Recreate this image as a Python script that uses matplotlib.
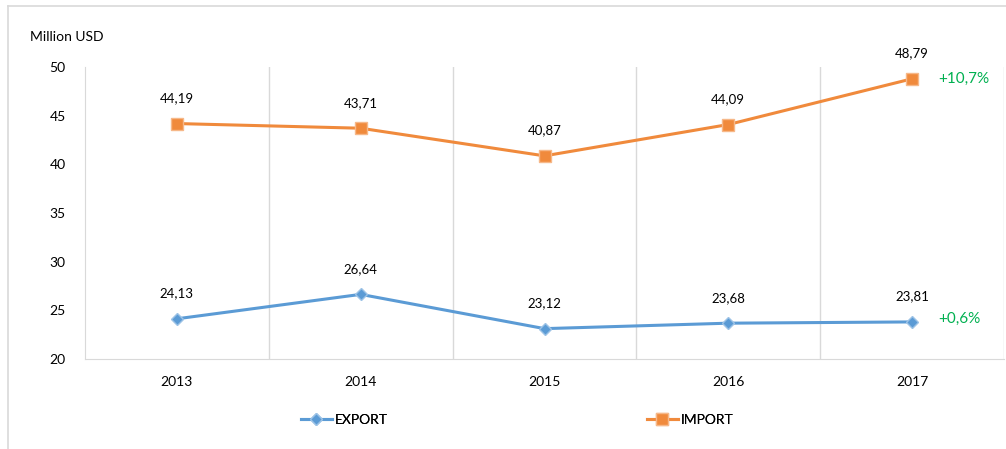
import matplotlib
matplotlib.use("Agg")
import matplotlib.pyplot as plt
from matplotlib.lines import Line2D

plt.rcParams['font.family'] = ['Lato', 'DejaVu Sans']

years = ["2013", "2014", "2015", "2016", "2017"]
export_vals = [24.13, 26.64, 23.12, 23.68, 23.81]
import_vals = [44.19, 43.71, 40.87, 44.09, 48.79]
export_growth = "+0,6%"
import_growth = "+10,7%"

C_EXP = "#5B9BD5"
C_IMP = "#F08A3C"
C_GREEN = "#00B050"
C_GRID = "#D9D9D9"

fig = plt.figure(figsize=(10.06, 4.49), dpi=100)
ax = fig.add_axes([85/1006, 1-359/449, (1004-85)/1006, (359-67)/449])

x = list(range(len(years)))
ax.plot(x, import_vals, color=C_IMP, lw=2.2, marker='s', ms=9,
        mfc=C_IMP, mec="#F6B889", mew=1, zorder=3, label="IMPORT")
ax.plot(x, export_vals, color=C_EXP, lw=2.2, marker='D', ms=6.5,
        mfc=C_EXP, mec="#9DC3E6", mew=1, zorder=3, label="EXPORT")

def fmt(v):
    return f"{v:.2f}".replace(".", ",")

for xi, v in zip(x, import_vals):
    ax.annotate(fmt(v), (xi, v), xytext=(0, 14), textcoords='offset points',
                ha='center', va='bottom', fontsize=9.5, color='#000000')
for xi, v in zip(x, export_vals):
    ax.annotate(fmt(v), (xi, v), xytext=(0, 14), textcoords='offset points',
                ha='center', va='bottom', fontsize=9.5, color='#000000')

ax.annotate(import_growth, (x[-1], import_vals[-1]), xytext=(19, 0),
            textcoords='offset points', ha='left', va='center', fontsize=11,
            color=C_GREEN, bbox=dict(boxstyle='square,pad=0.3', fc='white', ec='none'),
            zorder=5, annotation_clip=False)
ax.annotate(export_growth, (x[-1], export_vals[-1]), xytext=(19, 2),
            textcoords='offset points', ha='left', va='center', fontsize=11,
            color=C_GREEN, bbox=dict(boxstyle='square,pad=0.3', fc='white', ec='none'),
            zorder=5, annotation_clip=False)

ax.set_xlim(-0.5, len(years) - 0.5)
ax.set_ylim(20, 50)
ax.set_yticks([20, 25, 30, 35, 40, 45, 50])
ax.set_xticks(x)
ax.set_xticklabels(years)
for b in [i + 0.5 for i in range(len(years))]:
    ax.axvline(b, color=C_GRID, lw=1, zorder=1)

for s in ['top', 'right']:
    ax.spines[s].set_visible(False)
ax.spines['left'].set_color(C_GRID)
ax.spines['bottom'].set_color(C_GRID)
ax.tick_params(axis='both', length=0, labelsize=10, colors='#000000')
ax.tick_params(axis='y', pad=14)
ax.tick_params(axis='x', pad=12)

fig.text(30/1006, 1-37/449, "Million USD", fontsize=10, ha='left', va='center')

# outer frame
fig.add_artist(Line2D([8/1006, 1], [1-6/449, 1-6/449], color='#D9D9D9', lw=1.2,
                      transform=fig.transFigure))
fig.add_artist(Line2D([8/1006, 8/1006], [0, 1-6/449], color='#D9D9D9', lw=1.2,
                      transform=fig.transFigure))

h_exp = Line2D([], [], color=C_EXP, lw=2.2, marker='D', ms=6.5, mfc=C_EXP, mec="#9DC3E6")
h_imp = Line2D([], [], color=C_IMP, lw=2.2, marker='s', ms=9, mfc=C_IMP, mec="#F6B889")
for h, lab, lx in [(h_exp, "EXPORT", 301), (h_imp, "IMPORT", 647)]:
    lg = fig.legend([h], [lab], loc='center left',
                    bbox_to_anchor=(lx/1006, 1-420/449), frameon=False,
                    fontsize=10, handlelength=2.2, handletextpad=0.2,
                    borderpad=0, borderaxespad=0)
    fig.add_artist(lg)

fig.savefig("out.png", dpi=100)
